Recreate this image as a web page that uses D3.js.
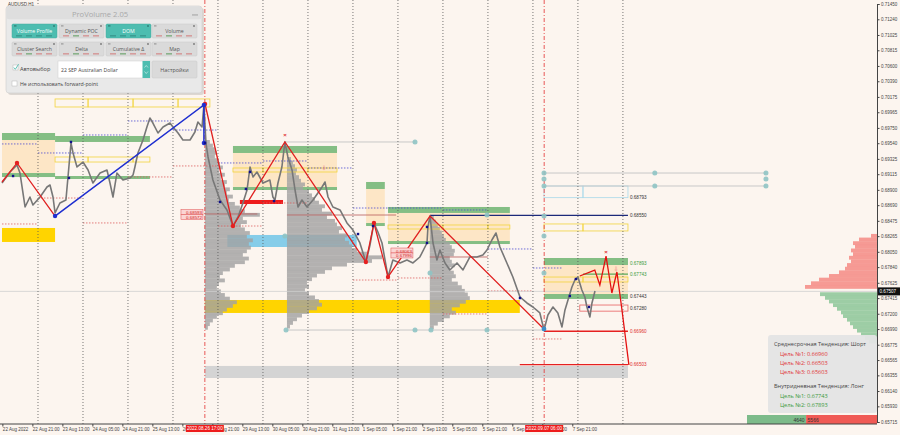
<!DOCTYPE html>
<html><head><meta charset="utf-8">
<script src="https://cdn.jsdelivr.net/npm/d3@7"></script>
<style>
body{margin:0;background:#fcf5ef;}
svg{display:block;font-family:"Liberation Sans","DejaVu Sans",sans-serif;}
</style></head><body>
<svg id="c" width="900" height="435"></svg>
<script>
// ---------------- DATA ----------------
// time = trading hours since 22 Aug 2022 00:00 (weekends skipped)
const priceTicks = [0.71450,0.71240,0.71025,0.70815,0.70600,0.70390,0.70175,0.69965,0.69750,0.69540,0.69325,0.69115,0.68900,0.68690,0.68475,0.68265,0.68050,0.67840,0.67625,0.67415,0.67200,0.66990,0.66775,0.66565,0.66355,0.66140,0.65930,0.65715];
const tickHours = [5,21,37,53,69,85,101,117,133,149,165,181,197,213,229,245,261,277,293,309];
const tickLabels = ["22 Aug 2022","22 Aug 21:00","23 Aug 13:00","24 Aug 05:00","24 Aug 21:00","25 Aug 13:00","26 Aug 05:00","26 Aug 21:00","29 Aug 13:00","30 Aug 05:00","30 Aug 21:00","31 Aug 13:00","1 Sep 05:00","1 Sep 21:00","2 Sep 13:00","5 Sep 05:00","5 Sep 21:00","6 Sep 13:00","7 Sep 05:00","7 Sep 21:00"];
const daySeparators = [24,48,72,96,120,144,168,192,216,240,264,288,312,336];
const markerHours = [113,294];
const markerLabels = ["2022.08.26 17:00","2022.09.07 06:00"];
const currentPrice = 0.67507;

const priceHours = [4.8,9.1,12.8,14.4,17.1,19.7,21.3,25.1,28.8,30.4,32,33.1,35.7,38.9,40,41.6,42.7,44.8,48,50.7,53.3,57.1,60.8,62.4,64,66.1,69.3,73.1,74.7,75.7,77.3,80,82.1,83.7,85.3,88,90.7,94.4,96,98.7,101.3,105.1,107.7,109.3,111.5,112.5,113.6,114.7,117.3,121.1,124.8,128,130.7,133.3,135.5,137.1,138.7,140.8,144,147.7,149.3,150.4,152,154.1,155.7,157.3,159.5,161.1,162.7,164.8,167.5,170.7,173.3,175.5,177.1,178.7,181.3,185.1,188.8,192,195.7,198.9,201.1,203.2,205.3,207.5,210.7,213.3,217.1,220.8,224,227.7,231.5,232,233.1,234.7,236.8,238.4,241.1,243.7,247.5,250.7,254.4,258.1,261.3,263.5,266.1,268.3,270.4,274.1,277.3,281.1,284.8,288,291.7,293.9,296,298.7,301.3,303.5,305.1,306.7,308.8,310.4,312,314.1,315.7,316.8,318.4,319.5,321.1];
const priceValues = [0.68994,0.69145,0.69241,0.69131,0.68665,0.68802,0.68692,0.68802,0.68939,0.68967,0.68802,0.68583,0.68720,0.68761,0.69077,0.69543,0.69406,0.69214,0.69282,0.69173,0.68994,0.69131,0.69173,0.68994,0.68802,0.69131,0.69035,0.69063,0.69104,0.69214,0.69406,0.69584,0.69763,0.69886,0.69817,0.69680,0.69763,0.69817,0.69763,0.69680,0.69584,0.69584,0.69694,0.69831,0.69763,0.70064,0.69543,0.69351,0.69035,0.68761,0.68624,0.68404,0.68528,0.68720,0.68898,0.69214,0.69077,0.69145,0.68994,0.69035,0.68802,0.68761,0.68994,0.69214,0.69557,0.69351,0.69173,0.68898,0.68665,0.68761,0.68665,0.68761,0.68857,0.68939,0.69008,0.68802,0.68665,0.68624,0.68446,0.68349,0.68171,0.67910,0.68144,0.68446,0.68322,0.68171,0.67705,0.67938,0.67897,0.67938,0.67897,0.67979,0.68171,0.68391,0.68541,0.68171,0.67938,0.68075,0.67897,0.67801,0.67897,0.67801,0.67979,0.67979,0.68006,0.68075,0.68212,0.68308,0.68116,0.67897,0.67705,0.67430,0.67348,0.67293,0.67211,0.66977,0.67183,0.67293,0.67211,0.67019,0.67252,0.67389,0.67567,0.67663,0.67705,0.67526,0.67430,0.67293,0.67156,0.67348,0.67512];

const zigzagRedA = [[4.8,0.69008],[12.8,0.69269],[33.1,0.68541]];
const zigzagBlue = [[33.1,0.68541],[112.5,0.70064],[112.5,0.69543]];
const zigzagRedB = [[113.1,0.70078],[128,0.68404],[155.7,0.69557],[198.9,0.67910],[203.2,0.68445],[210.7,0.67705],[233.1,0.68541],[293.9,0.66991]];
const projection = [[313,0.67718],[321,0.67800],[323.7,0.67594],[327,0.67992],[330.1,0.67485],[332.8,0.67773],[335.5,0.67252],[339.2,0.66497]];

// zones [h0,h1,priceTop,priceBottom]
const greenBars = [[4.8,33.1,0.69680,0.69584],[33.1,83.7,0.69639,0.69557],[4.8,33.1,0.69131,0.69076],[33.1,83.7,0.69090,0.69049],[128,183.5,0.69502,0.69406],[128,183.5,0.68939,0.68898],[199,209,0.69008,0.68912],[199,209,0.68445,0.68404],[210.7,275.7,0.68665,0.68583],[210.7,275.7,0.68198,0.68157],[293.9,338.7,0.67965,0.67869],[293.9,338.7,0.67471,0.67403]];
const peachFills = [[4.8,33.1,0.69584,0.69131],[128,183.5,0.69406,0.68939],[199,209,0.68912,0.68445],[210.7,275.7,0.68583,0.68198],[293.9,338.7,0.67869,0.67471]];
const goldBars = [[4.8,33.1,0.68377,0.68185],[113,281,0.67389,0.67211]];
const blueBars = [[125,194,0.68281,0.68116]];
const grayBars = [[113,338.7,0.66484,0.66319]];
const redBars = [[131.7,154.7,0.68761,0.68706]];
const yellowBoxes = [[33.1,50.7,0.70147,0.70037],[50.7,74.7,0.70147,0.70037],[74.7,98.7,0.70147,0.70037],[98.7,115.7,0.70147,0.70037],
  [33.1,50.7,0.69351,0.69282],[50.7,74.7,0.69351,0.69282],[74.7,83.7,0.69351,0.69282],
  [128,144,0.69200,0.69145],[144,168,0.69200,0.69145],[168,183.5,0.69200,0.69145],
  [210.7,240,0.68418,0.68363],[240,264,0.68418,0.68363],[264,275.7,0.68418,0.68363],
  [293.9,314.7,0.68432,0.68336],[314.7,338.7,0.68432,0.68336],
  [293.9,314.7,0.67704,0.67636],[314.7,338.7,0.67704,0.67636]];
const cyanBoxes = [[293.9,314.7,0.68953,0.68793],[314.7,338.7,0.68953,0.68793]];
const redBoxes = [[313,338.7,0.67320,0.67236]];
// daily levels [h0,h1,bluePrice,redPrice]
const dayLevels = [[4.8,24,0.69530,0.68432],[24,48,0.69406,0.68788],[48,72,0.69653,0.68446],[72,96,0.69845,0.69077],[96,120,0.69721,0.69228],[120,144,0.69269,0.68404],[144,168,0.69296,0.68720],[168,192,0.69200,null],[192,216,0.68651,0.67663],[216,240,0.68651,0.67691],[240,264,0.68624,0.67197],[264,288,0.68089,0.67513],[288,304,0.67828,0.66854]];
const pocLines = [[113,141,0.68569],[156.8,215,0.68555],[233,264,0.67979]];
// target levels
const levelHours0 = [293.9,233.1,293.9,314.7,293.9,313,293.9,281];
const levelPrices = [0.68793,0.68550,0.67893,0.67743,0.67443,0.67280,0.66960,0.66503];
const levelKinds = ["cyan","navy","green","green","green","red","red","red"];
const levelEnd = 338.7;
// volume profiles (bin 0.0005)
const profileAnchors = [113,156.8,233];
const profileTops = [0.69584,0.69351,0.68541];
const profileA = [5,8,10,12,10,14,15,18,14,20,16,22,20,25,22,28,24,30,35,40,55,38,42,36,40,45,42,48,44,46,42,38,44,40,30,25,18,15,20,14,12,16,20,25,32,28,22,18,12,8,5,3];
const profileB = [4,6,8,10,9,12,14,18,16,22,25,28,32,38,35,45,40,48,50,55,52,60,58,62,65,70,80,95,85,60,45,38,30,25,20,22,18,22,28,32,35,30,22,15,10,6,3];
const profileC = [4,6,8,10,12,14,16,20,22,25,24,20,22,25,20,24,26,22,28,32,35,38,40,36,30,22,26,20,14,8,4];
// right DOM profile
const askTop = 0.68295, askVols = [6,18,24,22,26,24,28,26,30,32,38,48,58,66,72];
const bidTop = 0.67495, bidVols = [57,52,48,44,40,36,34,30,27,24,20,16,12,8];
const buyTotal = 4640, sellTotal = 5566;
// dots
const tealDots = [[155.7,0.68267],[225.1,0.69557],[156.3,0.66977],[225.1,0.66977],[233.6,0.66977],[263.5,0.66977],[263.5,0.68555],[233.1,0.67759],[293.9,0.69131],[293.9,0.69049],[293.9,0.68953],[293.9,0.68541],[293.9,0.68267],[293.9,0.67759],[353,0.69131],[353,0.68953],[412.3,0.69131],[412.3,0.69049],[412.3,0.68953]];
const grayLines = [[155.7,225.1,0.69557],[156.3,293.9,0.66977],[293.9,412.3,0.69131],[293.9,412.3,0.68953]];
const signalPoints = [[10.7,0.69090],[40.5,0.69063],[41.6,0.69557],[113.1,0.69543],[121.1,0.68734],[134.9,0.68912],[137.1,0.69145],[149.9,0.68747],[194.7,0.68294],[202.7,0.68404],[231.5,0.68391],[231.5,0.68171],[281.1,0.67416],[307.7,0.67444],[310.9,0.67677],[317.9,0.67293]];
const redTags = [[112,0.68590,"0.68593"],[112,0.68520,"0.68572"],[224,0.68061,"0.68063"],[224,0.67993,"0.67996"]];
const trendTexts = ["Среднесрочная Тенденция: Шорт","Цель №1: 0.66960","Цель №2: 0.66503","Цель №3: 0.65603","Внутридневная Тенденция: Лонг","Цель №1: 0.67743","Цель №2: 0.67893"];
const buttonLabels = ["Volume Profile","Dynamic POC","DOM","Volume","Cluster Search","Delta","Cumulative Δ","Map"];
const activeButtons = [0,2];

// ---------------- DRAW ----------------
const svg = d3.select("#c");
const PR = 877, PB = 424;
svg.append("rect").attr("width",900).attr("height",435).attr("fill","#fcf5ef");
svg.append("defs").append("clipPath").attr("id","plot").append("rect").attr("width",PR).attr("height",PB);
const x = d3.scaleLinear().domain([0,471]).range([-7,876]);
const y = d3.scaleLinear().domain([0.65715,0.71450]).range([422,4]);
const vol = d3.scaleLinear().domain([0,100]).range([0,100]);
const plot = svg.append("g").attr("clip-path","url(#plot)");

function rects(data, fill, stroke, op){
  plot.append("g").selectAll("rect").data(data).join("rect")
    .attr("x",d=>x(d[0])).attr("width",d=>x(d[1])-x(d[0]))
    .attr("y",d=>y(d[2])).attr("height",d=>Math.max(0.8,y(d[3])-y(d[2])))
    .attr("fill",fill).attr("stroke",stroke||"none").attr("stroke-width",0.8).attr("opacity",op==null?1:op);
}
rects(peachFills,"#fde6c6");
rects(greenBars,"#7dbb7d",null,0.95);
rects(goldBars,"#ffd400");
rects(blueBars,"#86cde9");
rects(grayBars,"#d4d4d4");
rects(redBars,"#ee1c1c");

// volume profiles
[profileA,profileB,profileC].forEach((vals,k)=>{
  const step=0.0005;
  plot.append("g").selectAll("rect").data(vals).join("rect")
    .attr("x",x(profileAnchors[k]))
    .attr("y",(d,i)=>y(profileTops[k]-i*step))
    .attr("height",(d,i)=>y(profileTops[k]-(i+1)*step)-y(profileTops[k]-i*step)+0.2)
    .attr("width",d=>vol(d)).attr("fill","#a2a2a2").attr("opacity",0.82);
});
rects(yellowBoxes,"none","#f2d43c");
rects(cyanBoxes,"none","#a9d9ea");
rects(redBoxes,"none","#e86060");

// daily dashed levels
dayLevels.forEach(d=>{
  plot.append("line").attr("x1",x(d[0])).attr("x2",x(d[1])).attr("y1",y(d[2])).attr("y2",y(d[2]))
    .attr("stroke","#4a4ad0").attr("stroke-width",0.8).attr("stroke-dasharray","1.5,1.5");
  if(d[3]!=null) plot.append("line").attr("x1",x(d[0])).attr("x2",x(d[1])).attr("y1",y(d[3])).attr("y2",y(d[3]))
    .attr("stroke","#dd6060").attr("stroke-width",0.8).attr("stroke-dasharray","1.5,1.5");
});
pocLines.forEach(d=>plot.append("line").attr("x1",x(d[0])).attr("x2",x(d[1])).attr("y1",y(d[2])).attr("y2",y(d[2]))
  .attr("stroke","#b85a5a").attr("stroke-width",0.8));
grayLines.forEach(d=>plot.append("line").attr("x1",x(d[0])).attr("x2",x(d[1])).attr("y1",y(d[2])).attr("y2",y(d[2]))
  .attr("stroke","#c8c8c8").attr("stroke-width",1));
plot.append("line").attr("x1",0).attr("x2",PR).attr("y1",y(currentPrice)).attr("y2",y(currentPrice)).attr("stroke","#cfcfcf").attr("stroke-width",0.8);

// day separators
plot.append("g").selectAll("line").data(daySeparators).join("line")
  .attr("x1",d=>x(d)).attr("x2",d=>x(d)).attr("y1",0).attr("y2",PB)
  .attr("stroke","#555").attr("stroke-width",0.8).attr("stroke-dasharray","1,2");
plot.append("g").selectAll("line").data(markerHours).join("line")
  .attr("x1",d=>x(d)).attr("x2",d=>x(d)).attr("y1",0).attr("y2",PB)
  .attr("stroke","#e23030").attr("stroke-width",0.8).attr("stroke-dasharray","4,2,1,2");

// target level lines
const levelColor = {cyan:"#a9d9ea",navy:"#1c2a7a",green:"#5aaa5a",red:"#e52020"};
levelPrices.forEach((p,i)=>{
  const k=levelKinds[i];
  if(k==="navy"||(k==="green"&&i===3)||(k==="red"&&i!==5))
    plot.append("line").attr("x1",x(levelHours0[i])).attr("x2",x(levelEnd)).attr("y1",y(p)).attr("y2",y(p))
      .attr("stroke",levelColor[k]).attr("stroke-width",1.3);
  plot.append("text").attr("x",x(levelEnd)+2).attr("y",y(p)+1.6).text(p.toFixed(5))
    .attr("font-size",4.6).attr("fill",(k==="red"&&i!==5)?"#e03030":(k==="green"&&i!==4)?"#3a9a3a":"#333");
});

// price line
const line = d3.line().x(d=>x(d[0])).y(d=>y(d[1]));
const pts = priceHours.map((h,i)=>[h,priceValues[i]]);
plot.append("path").attr("d",line(pts)).attr("fill","none").attr("stroke","#777").attr("stroke-width",1.6).attr("stroke-linejoin","round");

// zigzags
plot.append("path").attr("d",line(zigzagRedA)).attr("fill","none").attr("stroke","#e02020").attr("stroke-width",1.3);
plot.append("path").attr("d",line(zigzagBlue)).attr("fill","none").attr("stroke","#1f2fd0").attr("stroke-width",1.5);
plot.append("path").attr("d",line(zigzagRedB)).attr("fill","none").attr("stroke","#e02020").attr("stroke-width",1.3);
plot.append("path").attr("d",line(projection)).attr("fill","none").attr("stroke","#e41010").attr("stroke-width",1.3);
plot.append("g").selectAll("circle").data(zigzagRedA.slice(1,2).concat(zigzagRedB.slice(0,2),zigzagRedB.slice(3,6))).join("circle")
  .attr("cx",d=>x(d[0])).attr("cy",d=>y(d[1])).attr("r",2.2).attr("fill","#e52020");
plot.append("g").selectAll("circle").data(zigzagBlue).join("circle")
  .attr("cx",d=>x(d[0])).attr("cy",d=>y(d[1])).attr("r",2.2).attr("fill","#1f2fd0");

// dots
plot.append("g").selectAll("circle").data(tealDots).join("circle")
  .attr("cx",d=>x(d[0])).attr("cy",d=>y(d[1])).attr("r",2.5).attr("fill","#8fc4c4").attr("opacity",0.9);
plot.append("circle").attr("cx",x(zigzagRedB[7][0])).attr("cy",y(zigzagRedB[7][1])).attr("r",2.4).attr("fill","#3c8cc8");
plot.append("g").selectAll("rect").data(signalPoints).join("rect")
  .attr("x",d=>x(d[0])-1.2).attr("y",d=>y(d[1])-1.2).attr("width",2.4).attr("height",2.4).attr("fill","#10108a");

// markers on zigzag
[[155.7,0.69650],[327,0.68050]].forEach(d=>{
  plot.append("text").attr("x",x(d[0])).attr("y",y(d[1])+2).attr("text-anchor","middle").attr("font-size",6).attr("fill","#e03030").attr("font-weight","bold").text("×");
});
[[176.5,0.69200],[332.3,0.67820]].forEach(d=>{
  plot.append("text").attr("x",x(d[0])).attr("y",y(d[1])+2).attr("text-anchor","middle").attr("font-size",6).attr("fill","#f08080").text("⇩");
});

// red tags
redTags.forEach(d=>{
  const tx=x(d[0]), ty=y(d[1]);
  plot.append("rect").attr("x",tx-22).attr("y",ty-3).attr("width",22).attr("height",5).attr("fill","#fbd5d5").attr("stroke","#e05050").attr("stroke-width",0.5);
  plot.append("text").attr("x",tx-1).attr("y",ty+1.5).attr("text-anchor","end").attr("font-size",4.4).attr("fill","#d02020").text(d[2]);
});

// right DOM profile
const step=0.0005;
plot.append("g").selectAll("rect").data(askVols).join("rect")
  .attr("x",d=>PR-vol(d)).attr("width",d=>vol(d))
  .attr("y",(d,i)=>y(askTop-i*step)).attr("height",(d,i)=>y(askTop-(i+1)*step)-y(askTop-i*step)+0.2)
  .attr("fill","#f58a84").attr("opacity",0.85);
plot.append("g").selectAll("rect").data(bidVols).join("rect")
  .attr("x",d=>PR-vol(d)).attr("width",d=>vol(d))
  .attr("y",(d,i)=>y(bidTop-i*step)).attr("height",(d,i)=>y(bidTop-(i+1)*step)-y(bidTop-i*step)+0.2)
  .attr("fill","#92c99c").attr("opacity",0.9);

// info box
const ib = svg.append("g");
ib.append("rect").attr("x",768).attr("y",335).attr("width",109).attr("height",78).attr("rx",3).attr("fill","#e4e4e4").attr("opacity",0.95);
const tY=[346,356,365,374,388,398,407], tX=[774,780,780,780,774,780,780];
const tC=["#444","#e03333","#e03333","#e03333","#444","#3a9a3a","#3a9a3a"];
trendTexts.forEach((t,i)=>ib.append("text").attr("x",tX[i]).attr("y",tY[i]).attr("font-size",5.6).attr("font-family","Open Sans, sans-serif").attr("fill",tC[i]).text(t));

// totals bar
const tot = d3.scaleLinear().domain([0,buyTotal+sellTotal]).range([747,PR]);
svg.append("rect").attr("x",tot(0)).attr("y",415).attr("width",tot(buyTotal)-tot(0)).attr("height",9).attr("fill","#7dbb8a");
svg.append("rect").attr("x",tot(buyTotal)).attr("y",415).attr("width",tot(buyTotal+sellTotal)-tot(buyTotal)).attr("height",9).attr("fill","#f05a55");
svg.append("text").attr("x",tot(buyTotal)-1.5).attr("y",421.5).attr("text-anchor","end").attr("font-size",5).attr("fill","#333").text(buyTotal);
svg.append("text").attr("x",tot(buyTotal)+1.5).attr("y",421.5).attr("font-size",5).attr("fill","#333").text(sellTotal);

// axes
const ay = svg.append("g").attr("transform",`translate(${PR},0)`)
  .call(d3.axisRight(y).tickValues(priceTicks).tickFormat(d3.format(".5f")).tickSize(2.5).tickPadding(1.5));
ay.select(".domain").attr("stroke","#444");
ay.selectAll("line").attr("stroke","#444");
ay.selectAll("text").attr("font-size",4.5).attr("fill","#444").attr("font-family","Liberation Sans, sans-serif");
const ax = svg.append("g").attr("transform",`translate(0,${PB})`)
  .call(d3.axisBottom(x).tickValues(tickHours).tickFormat((d,i)=>tickLabels[i]).tickSize(2.5).tickPadding(1));
ax.select(".domain").attr("stroke","#444").attr("d",`M0,0H${PR}`);
ax.selectAll("line").attr("stroke","#444");
ax.selectAll("text").attr("font-size",4.5).attr("fill","#444").attr("text-anchor","start").attr("font-family","Liberation Sans, sans-serif");
markerHours.forEach((h,i)=>{
  svg.append("rect").attr("x",x(h)-19).attr("y",425).attr("width",38).attr("height",7).attr("fill","#ee1c1c");
  svg.append("text").attr("x",x(h)).attr("y",430.3).attr("text-anchor","middle").attr("font-size",4.6).attr("fill","#fff").text(markerLabels[i]);
});
svg.append("rect").attr("x",PR+1).attr("y",y(currentPrice)-4).attr("width",22).attr("height",8).attr("fill","#111");
svg.append("text").attr("x",PR+2.5).attr("y",y(currentPrice)+1.7).attr("font-size",4.6).attr("fill","#fff").text(currentPrice.toFixed(5));

svg.append("text").attr("x",8).attr("y",6).attr("font-size",4.5).attr("fill","#333").text("AUDUSD,H1");

// ProVolume panel
const pn = svg.append("g").attr("font-family","Open Sans, sans-serif");
pn.append("rect").attr("x",8).attr("y",8).attr("width",196).attr("height",87).attr("rx",3).attr("fill","#000").attr("opacity",0.12);
pn.append("rect").attr("x",6).attr("y",6).attr("width",196).attr("height",87).attr("rx",3).attr("fill","#e9e9e9").attr("stroke","#cfcfcf").attr("stroke-width",0.6);
pn.append("rect").attr("x",6.3).attr("y",6.3).attr("width",195.4).attr("height",13).attr("rx",3).attr("fill","#dedede");
pn.append("text").attr("x",100).attr("y",16.5).attr("text-anchor","middle").attr("font-size",7.6).attr("fill","#a9a9a9").text("ProVolume 2.05");
pn.append("rect").attr("x",192).attr("y",14.5).attr("width",6).attr("height",0.9).attr("fill","#999");
const bX=[12,59,106,152], bY=[24,42];
buttonLabels.forEach((t,i)=>{
  const bx=bX[i%4], by=bY[Math.floor(i/4)], act=activeButtons.includes(i);
  pn.append("rect").attr("x",bx).attr("y",by).attr("width",45).attr("height",14).attr("rx",1.2)
    .attr("fill",act?"#4dbdb0":"#dadada").attr("stroke",act?"#45a99d":"#c9c9c9").attr("stroke-width",0.5);
  pn.append("text").attr("x",bx+22.5).attr("y",by+8.6).attr("text-anchor","middle").attr("font-size",5.2)
    .attr("fill",act?"#fff":"#555").text(t);
  pn.append("circle").attr("cx",bx+42).attr("cy",by+2).attr("r",0.9).attr("fill",act?"#2d7d74":"#777");
  pn.append("rect").attr("x",bx+2).attr("y",by+1.3).attr("width",2.5).attr("height",1.2).attr("fill",act?"#2d7d74":"#999");
  for(let k=0;k<4;k++) pn.append("rect").attr("x",bx+4+k*10).attr("y",by+11.5).attr("width",6).attr("height",0.8).attr("fill",act?"#2d7d74":(k===1?"#3a8a3a":"#d06060"));
});
pn.append("rect").attr("x",13).attr("y",65).attr("width",5).attr("height",5).attr("fill","#fff").attr("stroke","#aaa").attr("stroke-width",0.4);
pn.append("path").attr("d","M13.8,67.5 L15.3,69.3 L18.6,64.2").attr("fill","none").attr("stroke","#4dbdb0").attr("stroke-width",0.9);
pn.append("text").attr("x",20).attr("y",70.5).attr("font-size",5.6).attr("fill","#444").text("Автовыбор");
pn.append("rect").attr("x",58).attr("y",61).attr("width",92).attr("height",17).attr("fill","#fff").attr("stroke","#cfcfcf").attr("stroke-width",0.5);
pn.append("text").attr("x",61).attr("y",71.8).attr("font-size",5.1).attr("fill","#444").text("22 SEP Australian Dollar");
pn.append("rect").attr("x",142.5).attr("y",61).attr("width",7.5).attr("height",17).attr("fill","#4dbdb0");
pn.append("path").attr("d","M144.5,67.5 L146.25,65.5 L148,67.5 M144.5,71.5 L146.25,73.5 L148,71.5").attr("fill","none").attr("stroke","#fff").attr("stroke-width",0.5);
pn.append("rect").attr("x",152).attr("y",61).attr("width",45).attr("height",17).attr("rx",1.2).attr("fill","#dadada").attr("stroke","#c9c9c9").attr("stroke-width",0.5);
pn.append("text").attr("x",174.5).attr("y",71.5).attr("text-anchor","middle").attr("font-size",5.4).attr("fill","#555").text("Настройки");
pn.append("rect").attr("x",12).attr("y",81).attr("width",5).attr("height",5).attr("fill","#fff").attr("stroke","#aaa").attr("stroke-width",0.4);
pn.append("text").attr("x",20).attr("y",86.3).attr("font-size",5.2).attr("fill","#444").text("Не использовать forward-point");
</script>
</body></html>
